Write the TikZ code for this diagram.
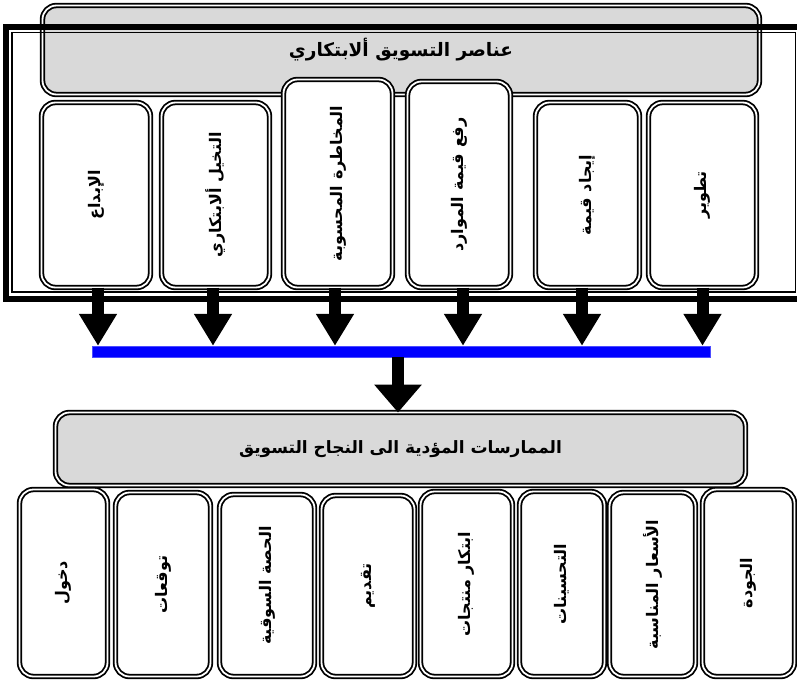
\documentclass[tikz,border=0pt]{standalone}
\usepackage{graphicx}
\usepackage{fontspec}
\usetikzlibrary{arrows.meta}
\TeXXeTstate=1
\newfontfamily\arabicfont[Script=Arabic]{DejaVu Sans}
\definecolor{panelgray}{RGB}{217,217,217}
% font setup for the labels; the rotated labels stand in the boxes
\newcommand{\arsize}[1]{\fontsize{#1}{#1}\selectfont\arabicfont\bfseries}
\newcommand{\vtxt}[1]{\rotatebox{90}{#1}}
\tikzset{
  dbox/.style={draw=black, double=white, line width=1.8pt, double distance=1.8pt,
               rounded corners=14pt, fill=white, inner sep=0pt, outer sep=0pt},
  headbox/.style={dbox, fill=panelgray},
  flow/.style={line width=12pt, -{Triangle[width=36pt,length=32pt]}},
  mainflow/.style={line width=12pt, -{Triangle[width=46pt,length=28pt]}},
}
\begin{document}
\begin{tikzpicture}[x=1pt,y=-1pt]
\useasboundingbox (0,0) rectangle (797,680);
\begin{scope}
\clip (0,0) rectangle (797,680);

% upper heading panel
\node[headbox, minimum width=717pt, minimum height=89pt] (t1) at (401,50)
  {\arsize{18.5}\beginR عناصر التسويق ألابتكاري\endR};

% thick-thin outer frame
\draw[line width=6pt] (6,26.5) rectangle (812,298.5);
\draw[line width=1.5pt] (12,32.5) rectangle (795.5,292);

% six element boxes
\node[dbox, minimum width=109pt, minimum height=185pt] (b1) at (96,195)   {\vtxt{\arsize{16}\beginR الإبداع\endR}};
\node[dbox, minimum width=108pt, minimum height=185pt] (b2) at (215.5,195) {\vtxt{\arsize{16}\beginR التخيل ألابتكاري\endR}};
\node[dbox, minimum width=109pt, minimum height=208pt] (b3) at (338,183.5) {\vtxt{\arsize{16}\beginR المخاطرة المحسوبة\endR}};
\node[dbox, minimum width=103pt, minimum height=206pt] (b4) at (459,184.5) {\vtxt{\arsize{16}\beginR رفع قيمة الموارد\endR}};
\node[dbox, minimum width=104pt, minimum height=185pt] (b5) at (587.5,195) {\vtxt{\arsize{16}\beginR إيجاد قيمة\endR}};
\node[dbox, minimum width=108pt, minimum height=185pt] (b6) at (702.5,195) {\vtxt{\arsize{16}\beginR تطوير\endR}};

% collecting bar
\node[fill=blue, draw=blue!70!white, line width=0.4pt, minimum width=618pt, minimum height=11pt,
      inner sep=0pt] (bar) at (401,351.5) {};

% arrows from the elements to the bar
\coordinate (a1) at ([xshift=2pt]b1.south);
\coordinate (a2) at ([xshift=-2.5pt]b2.south);
\coordinate (a3) at ([xshift=-3pt]b3.south);
\coordinate (a4) at ([xshift=4pt]b4.south);
\coordinate (a5) at ([xshift=-5.5pt]b5.south);
\coordinate (a6) at (b6.south);
\foreach \i in {1,...,6} {
  \draw[flow] (a\i) -- (a\i |- bar.north);
}

% lower heading panel
\node[headbox, minimum width=690pt, minimum height=73pt] (t2) at (400.5,449)
  {\arsize{17}\beginR الممارسات المؤدية الى النجاح التسويق\endR};

% arrow from the bar to the lower panel
\coordinate (m) at ([xshift=-3pt]bar.south);
\draw[mainflow] (m) -- (m |- t2.north);

% eight practice boxes
\node[dbox, minimum width=88pt, minimum height=187pt] (c1) at (63.5,583)   {\vtxt{\arsize{16}\beginR دخول\endR}};
\node[dbox, minimum width=95pt, minimum height=184pt] (c2) at (163,584.5)   {\vtxt{\arsize{16}\beginR توقعات\endR}};
\node[dbox, minimum width=95pt, minimum height=182pt] (c3) at (267,585.5)   {\vtxt{\arsize{16}\beginR الحصة السوقية\endR}};
\node[dbox, minimum width=93pt, minimum height=181pt] (c4) at (368,586)     {\vtxt{\arsize{16}\beginR تقديم\endR}};
\node[dbox, minimum width=92pt, minimum height=185pt] (c5) at (466.5,584)   {\vtxt{\arsize{16}\beginR ابتكار منتجات\endR}};
\node[dbox, minimum width=85pt, minimum height=185pt] (c6) at (562,584)     {\vtxt{\arsize{16}\beginR التحسينات\endR}};
\node[dbox, minimum width=86pt, minimum height=184pt] (c7) at (652.5,584.5) {\vtxt{\arsize{16}\beginR الأسعار المناسبة\endR}};
\node[dbox, minimum width=92pt, minimum height=187pt] (c8) at (748.5,583)   {\vtxt{\arsize{16}\beginR الجودة\endR}};
\end{scope}
\end{tikzpicture}
\end{document}
